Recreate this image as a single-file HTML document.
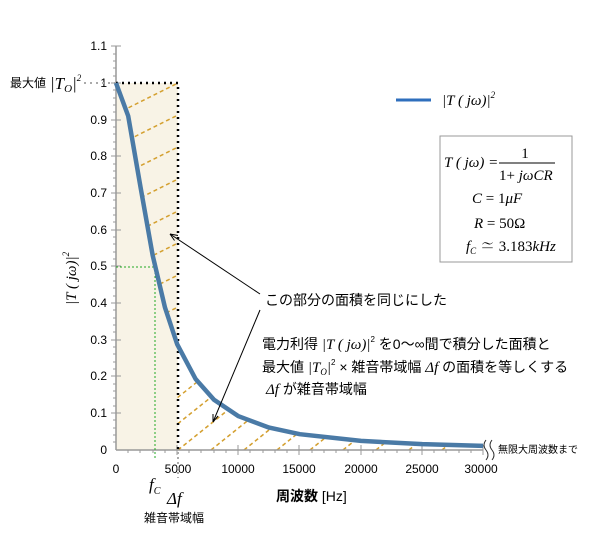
<!DOCTYPE html>
<html><head><meta charset="utf-8"><style>
body{margin:0;background:#fff;}
svg{display:block;font-family:"Liberation Sans","Noto Sans CJK JP",sans-serif;}
.t{fill:#000;}
.m{font-family:"Liberation Serif","Noto Serif CJK SC",serif;font-style:italic;}
</style></head><body>
<svg width="600" height="534" viewBox="0 0 600 534" font-size="12">
<defs>
<clipPath id="c1"><path d="M116,83 L178,83 L178,344 L177,344 L165.3,307.6 L153,255.5 L140.7,187 L128.3,116 Z"/></clipPath>
<clipPath id="c2"><path d="M177.2,344.3 L195.6,379 L214,399.8 L238.5,416.2 L269.1,427.6 L299.8,434.2 L361,440.9 L422.3,444.1 L483,445.9 L483,450 L177.2,450 Z"/></clipPath>
</defs>
<rect x="116" y="83" width="62" height="367" fill="#f8f3e6"/>
<g stroke="#d4a030" stroke-width="1.5" stroke-dasharray="4,3" fill="none" clip-path="url(#c1)">
<path d="M116,114 L178,83 M116,146 L178,115 M116,178 L178,147 M116,210 L178,179 M116,242 L178,211 M116,274 L178,243 M116,306 L178,275 M116,338 L178,307 M116,370 L178,339"/>
</g>
<g stroke="#d4a030" stroke-width="1.5" stroke-dasharray="4,3" fill="none" clip-path="url(#c2)">
<path d="M178,450 l120,-96 M211,450 l120,-96 M244,450 l120,-96 M277,450 l120,-96 M310,450 l120,-96 M343,450 l120,-96 M376,450 l120,-96 M409,450 l120,-96 M442,450 l120,-96 M145,450 l120,-96 M112,450 l120,-96"/>
</g>
<line x1="116" y1="46" x2="116" y2="450" stroke="#999" stroke-width="1.5"/>
<line x1="116" y1="450" x2="483" y2="450" stroke="#999" stroke-width="1.5"/>
<g stroke="#999" stroke-width="1">
<path d="M111,46H121M111,83H121M111,120H121M111,156H121M111,193H121M111,230H121M111,266H121M111,303H121M111,340H121M111,376H121M111,413H121"/>
<path d="M113,54H116M113,61H116M113,68H116M113,76H116M113,90H116M113,98H116M113,105H116M113,112H116M113,127H116M113,134H116M113,142H116M113,149H116M113,164H116M113,171H116M113,178H116M113,186H116M113,200H116M113,208H116M113,215H116M113,222H116M113,237H116M113,244H116M113,252H116M113,259H116M113,274H116M113,281H116M113,288H116M113,296H116M113,310H116M113,318H116M113,325H116M113,332H116M113,347H116M113,354H116M113,362H116M113,369H116M113,384H116M113,391H116M113,398H116M113,406H116M113,420H116M113,428H116M113,435H116M113,442H116"/>
<path d="M177,445V455M238,445V455M299,445V455M361,445V455M422,445V455M483,445V455"/>
<path d="M128,450V453M140,450V453M153,450V453M165,450V453M189,450V453M201,450V453M214,450V453M226,450V453M250,450V453M263,450V453M275,450V453M287,450V453M312,450V453M324,450V453M336,450V453M348,450V453M373,450V453M385,450V453M397,450V453M410,450V453M434,450V453M446,450V453M459,450V453M471,450V453"/>
</g>
<g class="t" text-anchor="end" font-size="12">
<text x="107" y="50">1.1</text><text x="107" y="87">1</text><text x="107" y="124">0.9</text><text x="107" y="160">0.8</text><text x="107" y="197">0.7</text><text x="107" y="234">0.6</text><text x="107" y="270">0.5</text><text x="107" y="307">0.4</text><text x="107" y="344">0.3</text><text x="107" y="380">0.2</text><text x="107" y="417">0.1</text><text x="107" y="454">0</text>
</g>
<g class="t" text-anchor="middle">
<text x="116" y="473">0</text><text x="178" y="473">5000</text><text x="238" y="473">10000</text><text x="299" y="473">15000</text><text x="361" y="473">20000</text><text x="422" y="473">25000</text><text x="481" y="473">30000</text>
</g>
<path d="M116,83H178V450" stroke="#000" stroke-width="2.5" stroke-dasharray="2,4" fill="none"/>
<path d="M84,83H116" stroke="#aaa" stroke-width="2" stroke-dasharray="2,4"/>
<path d="M178,452V478" stroke="#aaa" stroke-width="2" stroke-dasharray="2,3"/>
<path d="M116,267H155V458" stroke="#2a2" stroke-width="1" stroke-dasharray="2,2" fill="none"/>
<polyline points="116,83 128.2,116 140.5,187 152.7,255.5 165,307.6 177.2,344.3 195.6,379 214,399.8 238.5,416.2 269.1,427.6 299.8,434.2 361,440.9 422.3,444.1 483,445.9" fill="none" stroke="#4a7aa6" stroke-width="4.5" stroke-linejoin="round"/>
<path d="M486,440 q-4,5 0,10 q4,5 0,10 M492,440 q-4,5 0,10 q4,5 0,10" stroke="#333" fill="none" stroke-width="1"/>
<text x="498" y="453" font-size="10" class="t">無限大周波数まで</text>
<text x="10" y="87" class="t" font-size="12">最大値</text>
<text x="50" y="89" font-size="17" class="m">|T<tspan font-size="11" dy="3">O</tspan><tspan dy="-3">|</tspan><tspan font-size="9" dy="-8">2</tspan></text>
<text transform="translate(76,305) rotate(-90)" font-size="15" class="m">|T ( jω)|<tspan font-size="9" dy="-7">2</tspan></text>
<text x="149" y="490" font-size="17" class="m">f<tspan font-size="10" dy="4">C</tspan></text>
<text x="167" y="504" font-size="17" class="m">Δf</text>
<text x="144" y="522" class="t" font-size="12">雑音帯域幅</text>
<text x="276" y="501" font-size="14" class="t" font-weight="bold">周波数 <tspan font-weight="normal">[Hz]</tspan></text>
<line x1="396" y1="100" x2="431" y2="100" stroke="#2f6fbd" stroke-width="3"/>
<text x="442" y="105" font-size="15" class="m">|T ( jω)|<tspan font-size="9" dy="-7">2</tspan></text>
<rect x="440" y="136" width="132" height="126" fill="#fff" stroke="#999" stroke-width="1"/>
<g font-size="15" class="m" fill="#000">
<text x="444" y="167">T ( jω) =</text>
<text x="525" y="158" style="font-style:normal" text-anchor="middle">1</text>
<line x1="499" y1="163" x2="555" y2="163" stroke="#000" stroke-width="1"/>
<text x="499" y="180"><tspan style="font-style:normal">1+</tspan> jωCR</text>
<text x="472" y="203">C <tspan style="font-style:normal">= 1</tspan>μF</text>
<text x="474" y="228">R <tspan style="font-style:normal">= 50Ω</tspan></text>
<text x="466" y="251">f<tspan font-size="9" dy="3">C</tspan><tspan dy="-3" style="font-style:normal"> ≃ 3.183</tspan>kHz</text>
</g>
<text x="265" y="305" class="t" font-size="14">この部分の面積を同じにした</text>
<text x="262" y="349" class="t" font-size="14">電力利得 <tspan class="m" font-size="15">|T ( jω)|</tspan><tspan font-size="8" dy="-7">2</tspan><tspan dy="7"> を0〜∞間で積分した面積と</tspan></text>
<text x="262" y="372" class="t" font-size="14">最大値 <tspan class="m" font-size="15">|T<tspan font-size="9" dy="3">O</tspan><tspan dy="-3">|</tspan></tspan><tspan font-size="8" dy="-7">2</tspan><tspan dy="7"> × 雑音帯域幅 </tspan><tspan class="m" font-size="15">Δf</tspan> の面積を等しくする</text>
<text x="266" y="394" class="t" font-size="14"><tspan class="m" font-size="15">Δf</tspan> が雑音帯域幅</text>
<g stroke="#000" stroke-width="1" fill="none">
<line x1="260" y1="294" x2="170" y2="234"/>
<path d="M170,234 l8,1.5 M170,234 l4.5,6.5"/>
<line x1="260" y1="310" x2="213" y2="422"/>
<path d="M213,422 l0,-8 M213,422 l5,-6"/>
</g>
</svg>
</body></html>
